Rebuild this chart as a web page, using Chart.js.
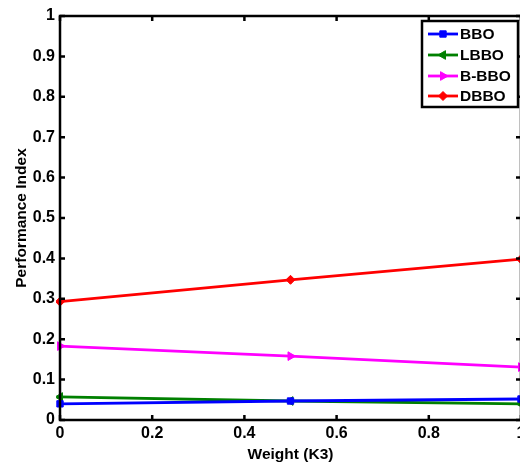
<!DOCTYPE html>
<html>
<head>
<meta charset="utf-8">
<script src="https://cdn.jsdelivr.net/npm/chart.js@4/dist/chart.umd.min.js"></script>
<style>
html,body{margin:0;padding:0;overflow:hidden;background:#fff;width:520px;height:464px;}
canvas{display:block;}
</style>
</head>
<body>
<canvas id="c" width="530" height="464"></canvas>
<script>
const xValues = [0, 0.5, 1];
const seriesNames = ["BBO", "LBBO", "B-BBO", "DBBO"];
const bbo = [0.040, 0.047, 0.052];
const lbbo = [0.057, 0.047, 0.040];
const bbbo = [0.183, 0.158, 0.131];
const dbbo = [0.293, 0.347, 0.398];
const xTicks = [0, 0.2, 0.4, 0.6, 0.8, 1];
const yTicks = [0, 0.1, 0.2, 0.3, 0.4, 0.5, 0.6, 0.7, 0.8, 0.9, 1];

const FONT = "'Liberation Sans', Arial, sans-serif";
const colors = ["#0000ff", "#008000", "#ff00ff", "#ff0000"];
const styles = ["rect", "triangle", "triangle", "rectRot"];
const rotations = [0, -90, 90, 0];
const radii = [4.5, 5, 5, 4.5];
const allSeries = [bbo, lbbo, bbbo, dbbo];

const datasets = allSeries.map((s, i) => ({
  label: seriesNames[i],
  data: s.map((v, k) => ({x: xValues[k], y: v})),
  borderColor: colors[i],
  backgroundColor: colors[i],
  borderWidth: 2.8,
  pointStyle: styles[i],
  pointRotation: rotations[i],
  pointRadius: radii[i],
  pointBorderWidth: 1,
  tension: 0,
  clip: 4
}));

const frame = {
  id: 'frame',
  afterDraw(chart) {
    const ctx = chart.ctx, a = chart.chartArea;
    const xs = chart.scales.x, ys = chart.scales.y;
    ctx.save();
    ctx.strokeStyle = '#000';
    ctx.lineWidth = 2.5;
    ctx.strokeRect(a.left, a.top, a.right - a.left, a.bottom - a.top);
    const L = 5;
    ctx.beginPath();
    xTicks.forEach(t => {
      const px = xs.getPixelForValue(t);
      ctx.moveTo(px, a.bottom); ctx.lineTo(px, a.bottom - L);
      ctx.moveTo(px, a.top); ctx.lineTo(px, a.top + L);
    });
    yTicks.forEach(t => {
      const py = ys.getPixelForValue(t);
      ctx.moveTo(a.left, py); ctx.lineTo(a.left + L, py);
      ctx.moveTo(a.right, py); ctx.lineTo(a.right - L, py);
    });
    ctx.stroke();

    // legend
    const bx = 422, by = 21, bw = 96, bh = 86;
    ctx.fillStyle = '#fff';
    ctx.fillRect(bx, by, bw, bh);
    ctx.lineWidth = 2.5;
    ctx.strokeStyle = '#000';
    ctx.strokeRect(bx, by, bw, bh);
    const rows = [34, 55, 76, 96];
    chart.data.datasets.forEach((ds, i) => {
      const y = rows[i];
      ctx.strokeStyle = ds.borderColor;
      ctx.lineWidth = 2.8;
      ctx.beginPath(); ctx.moveTo(428, y); ctx.lineTo(458, y); ctx.stroke();
      ctx.fillStyle = ds.backgroundColor;
      ctx.lineWidth = 1;
      Chart.helpers.drawPoint(ctx, {pointStyle: ds.pointStyle, rotation: ds.pointRotation, radius: ds.pointRadius, borderWidth: 1}, 443, y);
      ctx.fillStyle = '#000';
      ctx.font = "bold 15.5px " + FONT;
      ctx.textBaseline = 'middle';
      ctx.textAlign = 'left';
      ctx.fillText(ds.label, 460, y + 1);
    });
    ctx.restore();
  }
};

new Chart(document.getElementById('c'), {
  type: 'line',
  data: { datasets },
  options: {
    responsive: false,
    animation: false,
    layout: { padding: { left: 0, right: 9, top: 16, bottom: 0 } },
    plugins: { legend: { display: false }, tooltip: { enabled: false } },
    scales: {
      x: {
        type: 'linear', min: 0, max: 1,
        afterBuildTicks: s => { s.ticks = xTicks.map(v => ({value: v})); },
        afterFit: s => { s.height = 44; },
        grid: { display: false, drawTicks: false },
        border: { display: false },
        ticks: { color: '#000', font: { family: FONT, size: 16, weight: 'bold' }, padding: 4, maxRotation: 0, autoSkip: false,
                 callback: v => String(v) },
        title: { display: true, text: 'Weight (K3)', color: '#000', font: { family: FONT, size: 15.5, weight: 'bold' }, padding: { top: -4, bottom: 0 } }
      },
      y: {
        type: 'linear', min: 0, max: 1,
        afterBuildTicks: s => { s.ticks = yTicks.map(v => ({value: v})); },
        afterFit: s => { s.width = 60; },
        grid: { display: false, drawTicks: false },
        border: { display: false },
        ticks: { color: '#000', font: { family: FONT, size: 16, weight: 'bold' }, padding: 5, autoSkip: false,
                 callback: v => String(v) },
        title: { display: true, text: 'Performance Index', color: '#000', font: { family: FONT, size: 15.5, weight: 'bold' }, padding: { top: 12, bottom: 0 } }
      }
    }
  },
  plugins: [frame]
});
</script>
</body>
</html>
